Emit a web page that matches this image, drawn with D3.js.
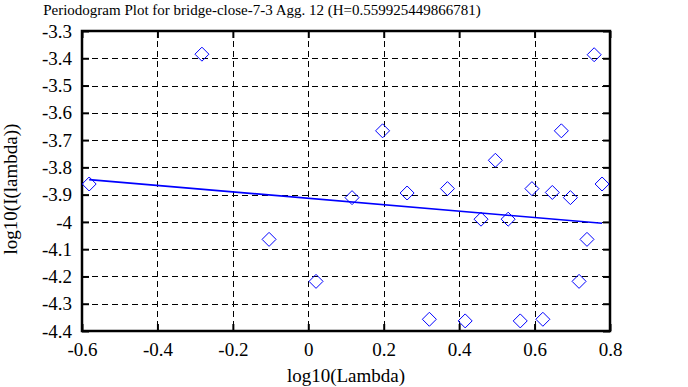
<!DOCTYPE html>
<html>
<head>
<meta charset="utf-8">
<script src="https://cdn.jsdelivr.net/npm/d3@7"></script>
<style>
  html, body { margin: 0; padding: 0; background: #fff; }
  svg { display: block; }
</style>
</head>
<body>
<div id="chart"></div>
<script>
// periodogram points: log10(lambda) vs log10(I(lambda))
const lambdaLog = [
  -0.581, -0.282, -0.104, 0.0205, 0.116, 0.197, 0.262, 0.321, 0.369, 0.416, 0.458, 0.496,
  0.530, 0.562, 0.593, 0.622, 0.647, 0.671, 0.695, 0.718, 0.739, 0.758, 0.779
];
const intensityLog = [
  -3.861, -3.385, -4.064, -4.218, -3.911, -3.666, -3.894, -4.357, -3.878, -4.363, -3.990, -3.774,
  -3.990, -4.363, -3.878, -4.357, -3.892, -3.666, -3.911, -4.218, -4.064, -3.387, -3.861
];

// least squares fit line end points
const fitX = [-0.581, 0.779];
const fitY = [-3.845, -4.005];

const xTicks = [-0.6, -0.4, -0.2, 0, 0.2, 0.4, 0.6, 0.8];
const xTickLabels = ["-0.6", "-0.4", "-0.2", "0", "0.2", "0.4", "0.6", "0.8"];
const yTicks = [-3.3, -3.4, -3.5, -3.6, -3.7, -3.8, -3.9, -4.0, -4.1, -4.2, -4.3, -4.4];
const yTickLabels = ["-3.3", "-3.4", "-3.5", "-3.6", "-3.7", "-3.8", "-3.9", "-4", "-4.1", "-4.2", "-4.3", "-4.4"];

const width = 688, height = 387;
const plotLeft = 82, plotRight = 610, plotTop = 31, plotBottom = 331;
const font = '"Liberation Serif", monospace';

const svg = d3.select('#chart').append('svg')
  .attr('width', width)
  .attr('height', height);

const x = d3.scaleLinear().domain([-0.6, 0.8]).range([plotLeft, plotRight]);
const y = d3.scaleLinear().domain([-4.4, -3.3]).range([plotBottom, plotTop]);

// dashed grid (inner ticks only)
const grid = svg.append('g').attr('stroke', '#000').attr('stroke-width', 1)
  .attr('stroke-dasharray', '6,4').attr('shape-rendering', 'crispEdges');
grid.selectAll('line.v')
  .data(xTicks.slice(1, -1))
  .enter().append('line')
  .attr('class', 'v')
  .attr('x1', d => Math.round(x(d)) + 0.5).attr('x2', d => Math.round(x(d)) + 0.5)
  .attr('y1', plotTop).attr('y2', plotBottom);
grid.selectAll('line.h')
  .data(yTicks.slice(1, -1))
  .enter().append('line')
  .attr('class', 'h')
  .attr('y1', d => Math.round(y(d)) + 0.5).attr('y2', d => Math.round(y(d)) + 0.5)
  .attr('x1', plotLeft).attr('x2', plotRight);

// axes: inward ticks on all four sides
const tickLen = 7;
const bottomAxis = svg.append('g').attr('transform', `translate(0,${plotBottom})`)
  .call(d3.axisBottom(x).tickValues(xTicks).tickSizeInner(-tickLen).tickSizeOuter(0)
    .tickPadding(12).tickFormat((d, i) => xTickLabels[i]));
const leftAxis = svg.append('g').attr('transform', `translate(${plotLeft},0)`)
  .call(d3.axisLeft(y).tickValues(yTicks).tickSizeInner(-tickLen).tickSizeOuter(0)
    .tickPadding(10).tickFormat((d, i) => yTickLabels[i]));
const topAxis = svg.append('g').attr('transform', `translate(0,${plotTop})`)
  .call(d3.axisTop(x).tickValues(xTicks).tickSizeInner(-tickLen).tickSizeOuter(0).tickFormat(''));
const rightAxis = svg.append('g').attr('transform', `translate(${plotRight},0)`)
  .call(d3.axisRight(y).tickValues(yTicks).tickSizeInner(-tickLen).tickSizeOuter(0).tickFormat(''));

[bottomAxis, leftAxis, topAxis, rightAxis].forEach(a => {
  a.attr('font-family', null);
  a.select('.domain').remove();
  a.selectAll('.tick line').attr('stroke', '#000').attr('stroke-width', 2);
  a.selectAll('.tick text').attr('fill', '#000')
    .style('font-family', font).style('font-size', '19px');
});

// frame
svg.append('rect')
  .attr('x', plotLeft).attr('y', plotTop)
  .attr('width', plotRight - plotLeft).attr('height', plotBottom - plotTop)
  .attr('fill', 'none').attr('stroke', '#000').attr('stroke-width', 2.5);

// fitted line
const lineData = fitX.map((d, i) => [d, fitY[i]]);
svg.append('path')
  .datum(lineData)
  .attr('fill', 'none')
  .attr('stroke', '#0000ff')
  .attr('stroke-width', 1.6)
  .attr('d', d3.line().x(d => x(d[0])).y(d => y(d[1])));

// diamonds
const points = lambdaLog.map((d, i) => ({ lx: d, ly: intensityLog[i] }));
svg.append('g').selectAll('path')
  .data(points)
  .enter().append('path')
  .attr('transform', d => `translate(${x(d.lx)},${y(d.ly)})`)
  .attr('d', 'M0,-7L7,0L0,7L-7,0Z')
  .attr('fill', 'none')
  .attr('stroke', '#0000ff')
  .attr('stroke-width', 1);

// title & axis labels
svg.append('text')
  .attr('x', 262).attr('y', 15)
  .attr('text-anchor', 'middle')
  .style('font-family', font)
  .style('font-size', '15px')
  .text('Periodogram Plot for bridge-close-7-3 Agg. 12 (H=0.559925449866781)');

svg.append('text')
  .attr('x', (plotLeft + plotRight) / 2).attr('y', 382)
  .attr('text-anchor', 'middle')
  .style('font-family', font)
  .style('font-size', '19px')
  .text('log10(Lambda)');

svg.append('text')
  .attr('transform', `translate(17,${(plotTop + plotBottom) / 2 + 8}) rotate(-90)`)
  .attr('text-anchor', 'middle')
  .style('font-family', font)
  .style('font-size', '19px')
  .text('log10(I(lambda))');
</script>
</body>
</html>
